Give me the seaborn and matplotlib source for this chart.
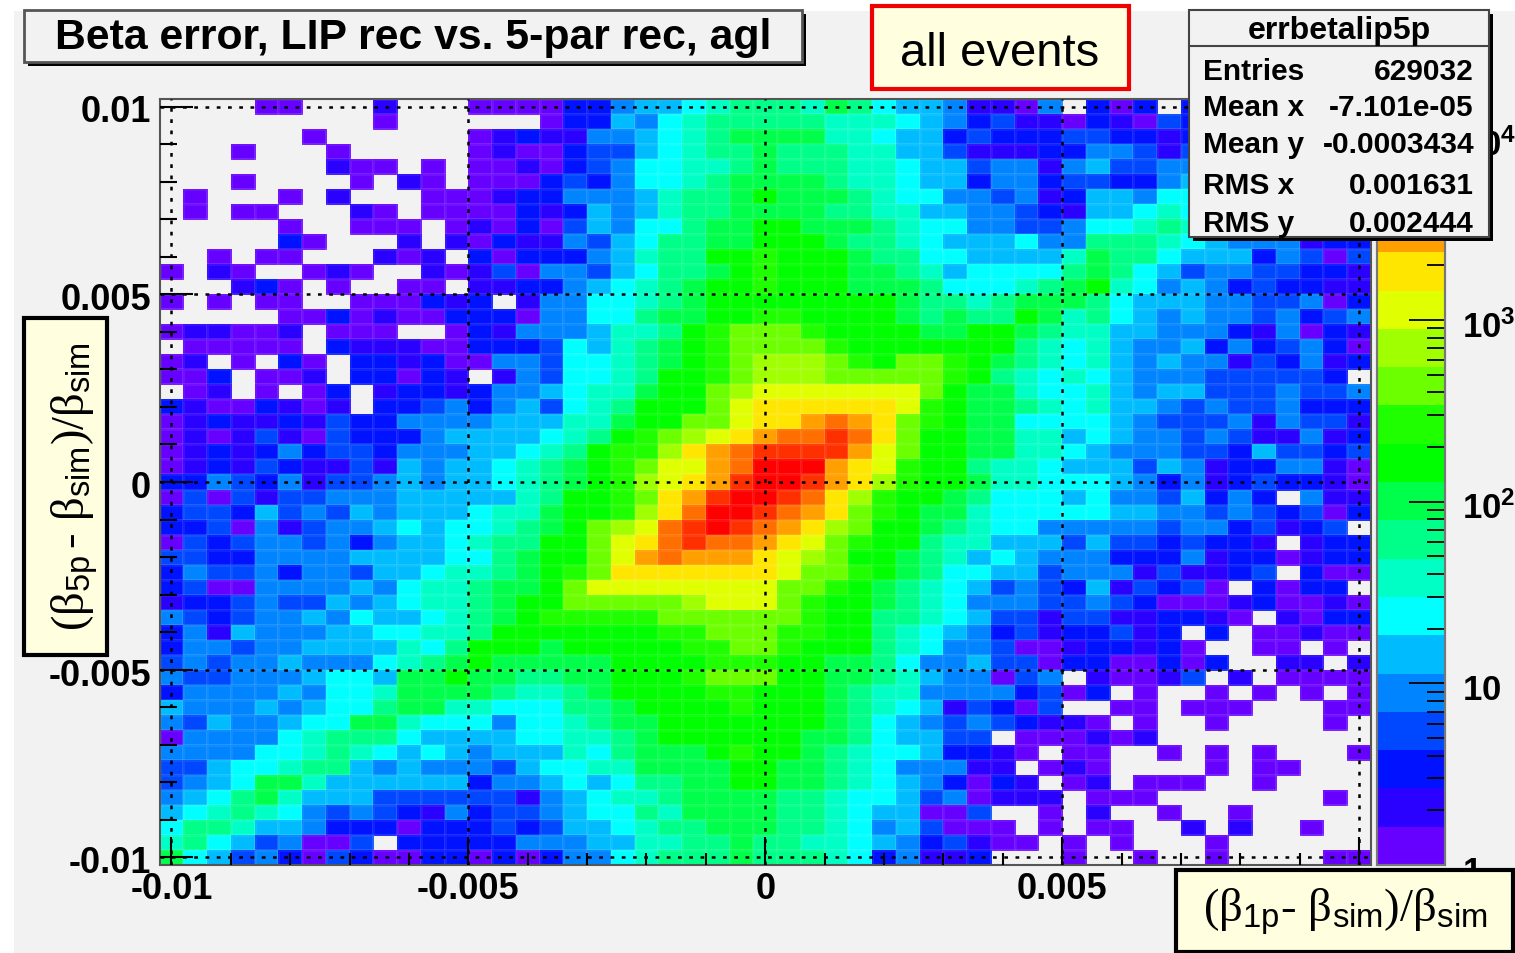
import matplotlib
matplotlib.use("Agg")
import matplotlib.pyplot as plt
import numpy as np
import pandas as pd
import seaborn as sns
from matplotlib.colors import ListedColormap, LogNorm
from matplotlib.patches import Rectangle
from matplotlib.ticker import FixedLocator, NullFormatter
from matplotlib.transforms import ScaledTranslation

# Colour band read for each cell, row 0 is beta5p = +0.01, "." is an empty bin
BAND_ROWS = [
    "....00...1..." "0000224556788" "879865541104.202." "22232222",
    ".........0..." "...022546" "7888" "88777654231102103" "23222322",
    "......0......" "0121144567899" "99776552322233221" "23223222",
    "...0...0....." "0100233567889" "88877553111224431" "32232222",
    ".......100.0." "0010234667789" "88877655344145334" "43232122",
    "...0....0.10." "0002324667899" "99877655244233224" "54343222",
    ".0...0.1...00" "012244457889a" "99987664434125546" "65443222",
    ".0.00...10.00" "0021254578899" "99887755443215567" "65544322",
    ".....0..000.0" "102035466899a" "a9998766443346678" "76544312",
    ".....20...1.1" "021143568899a" "aa988765556448887" "65444122",
    "..0.00...101." "2022245788aab" "aaa98866555579886" "55524303",
    "0.10..010..10" "13044356889ab" "aaa99875666689865" "34433221",
    "...120.0..00." "1122456789aab" "aaa9998666789a764" "54232211",
    "0.0.00..00021" "2.14466789aaa" "aaaaa988789998655" "54433402",
    ".....00201002" "2204466899aab" "baaaa98988a978654" "54434234",
    "011001.000..0" "214445778abcc" "cbaaaa99aa9877554" "44214021",
    ".00000.211100" "222365789abcc" "ccbaaaaaaa8767544" "52423420",
    "01.0.20.22120" "044366789abcd" "ddcbaccba98767545" "44132412",
    "002.001.22021" ".1436678aabcd" "ddcccccba87676544" "4333332.",
    ".01.0.02.1221" "24456779aacde" "eeeeeeca997667545" "53334334",
    "21002101.2234" "2453678aaacef" "fffffeba998767554" "34334222",
    "0121121322444" "4555779aaccef" "fghgfcba996666543" "33414331",
    "0101310322245" "555678abcdefg" "hhihfcaa997756544" "34311412",
    "0121242332444" "55678abbdfghi" "iiigecaa997765444" "33253323",
    "0121321131545" "56789abceeghj" "jjgfebaa877655535" "41224410",
    "2243241334545" "56789abdefgij" "jigfdbaa977666542" "41232210",
    "0303133444555" "5578aabcfgijj" "ihfdbaa9866656443" "5242.411",
    "2332534354555" "6779aabdfhjji" "hgfcba99766666554" "43432302",
    "2230413445656" "6789acdehijih" "gfdcaa98766444443" "4423123.",
    "0323443424556" "788aacefhihhg" "fecbaa87755535332" "3221.122",
    "3322444455556" "689aaceghgggf" "edcaa987565444222" "41220122",
    "2433424435567" "789abcfffffff" "eccba986655344413" "1123.200",
    "2300444454677" "899aceeeeeeee" "ccba9876534325132" "30.2022.",
    "1223433545677" "89aacccccdeee" "cbaa9876444334320" "00120010",
    "4323445465567" "89abbbbbccccc" "cbaa8876533133112" "210.1022",
    "2415444556677" "8aaaaaaabbccc" "bbaa8765423122312" ".2.00100",
    "2443445555768" "aaa9aaaaabbcc" "baaa8764430012212" "0..00.0.",
    "3434454446789" "a99999aaaabbb" "aa998644533022002" "02..11.1",
    "433444566599a" "998899aaabccc" "aa9987544034.1001" "3.1.0000",
    "2444454667999" "987789aaaabba" "aa987744442302.0." ".0.0.0.0",
    "5444545668997" "7666889aaaaba" "aa9876513203..00." "000...00",
    "4354456699766" "64667899aaaaa" "aa986543432110.0." ".0....0.",
    "0444467888655" "55667789aaaaa" "a99865533.000101." "........",
    "4444667876565" "4555768999aba" "a9876652210.00..0" ".0.0...0",
    "3356678854544" "43566779999aa" "9987644411.010..." ".0.00...",
    "3456997555555" "24456568899aa" "99876542021.01.00" "0..0....",
    "4568975553333" "3314567789999" "887665340111.000." "......0.",
    "5678764343214" "2334566879999" "887655003..0.1..0" "..0.....",
    "6887554222022" "2323556788999" "8876453000.0.00.." "1.1..0..",
    "786534003.222" "2244455778898" "87765423100.0.0.." ".0......",
    "9653420320022" "0202446788898" "887624112...0..0." ".0....00",
]
BAND_CODES = "0123456789abcdefghij"
# Typical bin content of each colour band
BAND_COUNTS = [1, 2, 3, 5, 9, 14, 23, 37, 60, 97, 160, 260, 420, 680, 1100, 1800, 2900, 4700, 7600, 12000]
BAND_COLORS = ["#6600FF", "#2A00FF", "#0012FF", "#0048FF", "#0084FF", "#00BCFF", "#00FFFF", "#00FFC4",
               "#00FF88", "#00FF4A", "#00FF00", "#20FF00", "#6CFF00", "#A0FF00", "#E0FF00", "#FFE600",
               "#FFA000", "#FF6E00", "#FF3000", "#FF0000"]

MAJOR_TICKS = [-0.01, -0.005, 0, 0.005, 0.01]
MAJOR_LABELS_X = ["-0.01", "-0.005", "0", "0.005", "0.01"]
MAJOR_LABELS_Y = ["-0.01", "-0.005", "0", "0.005", "0.01"]
MINOR_TICKS = [-0.009, -0.008, -0.007, -0.006, -0.004, -0.003, -0.002, -0.001,
               0.001, 0.002, 0.003, 0.004, 0.006, 0.007, 0.008, 0.009]
CBAR_TICKS = [1, 10, 100, 1000, 10000]
CBAR_LABELS = [r"$\mathbf{1}$", r"$\mathbf{10}$", r"$\mathbf{10^{2}}$", r"$\mathbf{10^{3}}$", r"$\mathbf{10^{4}}$"]
STAT_NAMES = ["Entries", "Mean x", "Mean y", "RMS x", "RMS y"]
STAT_VALUES = ["629032", "-7.101e-05", "-0.0003434", "0.001631", "0.002444"]

BIN_WIDTH = 0.0004
AXIS_EDGE = 0.0102
W, H = 1515, 954
CANVAS = "#F2F2F2"
NOTE = "#FFFFE0"

plt.rcParams["font.family"] = ["Liberation Sans", "DejaVu Sans"]
plt.rcParams["mathtext.fontset"] = "custom"
plt.rcParams["mathtext.rm"] = "Liberation Serif"
plt.rcParams["mathtext.it"] = "Liberation Serif"
plt.rcParams["mathtext.sf"] = "Liberation Sans"
plt.rcParams["mathtext.bf"] = "Liberation Sans:bold"
plt.rcParams["mathtext.default"] = "rm"


def to_counts(row):
    return [np.nan if c == "." else BAND_COUNTS[BAND_CODES.index(c)] for c in row]


def axes_box(x0, y0, x1, y1):
    # pixel box, measured from the top left, as a figure fraction rectangle
    return [x0 / W, 1 - y1 / H, (x1 - x0) / W, (y1 - y0) / H]


for row in BAND_ROWS:
    assert len(row) == 51, row
counts = pd.DataFrame([to_counts(r) for r in BAND_ROWS])

fig = plt.figure(figsize = (W / 100, H / 100), dpi = 100, facecolor = "white")
fig.add_artist(Rectangle((14 / W, 0), 1 - 14 / W, 1 - 12 / H, transform = fig.transFigure, facecolor = CANVAS, edgecolor = "none", zorder = -1))

ax = fig.add_axes(axes_box(159.5, 100, 1371, 866), facecolor = CANVAS)
cax = fig.add_axes(axes_box(1377, 100, 1445, 866))

sns.heatmap(counts, cmap = ListedColormap(BAND_COLORS), norm = LogNorm(vmin = 1, vmax = 16500), ax = ax, cbar_ax = cax,
            xticklabels = False, yticklabels = False, linewidths = 0.8, linecolor = (1, 1, 1, 0.07))

# heatmap axes run in bin numbers, so convert the physics values
x_pos = lambda v: (np.asarray(v) + AXIS_EDGE) / BIN_WIDTH
y_pos = lambda v: (AXIS_EDGE - np.asarray(v)) / BIN_WIDTH

ax.set_xticks(x_pos(MAJOR_TICKS))
ax.set_xticklabels(MAJOR_LABELS_X, fontsize = 26, fontweight = "bold", rotation = 0)
ax.set_xticks(x_pos(MINOR_TICKS), minor = True)
ax.set_yticks(y_pos(MAJOR_TICKS))
ax.set_yticklabels(MAJOR_LABELS_Y, fontsize = 26, fontweight = "bold", rotation = 0)
ax.set_yticks(y_pos(MINOR_TICKS), minor = True)
ax.tick_params(axis = "x", which = "major", direction = "in", length = 20, width = 1.5, pad = 4, color = "black", bottom = True)
ax.tick_params(axis = "x", which = "minor", direction = "in", length = 9, width = 1.5, color = "black", bottom = True)
ax.tick_params(axis = "y", which = "major", direction = "in", length = 24, width = 1.5, pad = 6, color = "black", left = True)
ax.tick_params(axis = "y", which = "minor", direction = "in", length = 12, width = 1.5, color = "black", left = True)
ax.set_axisbelow(False)
ax.grid(True, which = "major", color = "black", linestyle = (0, (1.5, 3)), linewidth = 1.8)
for spine in ax.spines.values():
    spine.set_visible(True)
    spine.set_color("#555555")
    spine.set_linewidth(1.5)

# ROOT draws these labels a little under their ticks
for label in ax.get_yticklabels():
    label.set_transform(label.get_transform() + ScaledTranslation(0, -1 / 72, fig.dpi_scale_trans))

cax.yaxis.set_major_locator(FixedLocator(CBAR_TICKS))
cax.set_yticklabels(CBAR_LABELS, fontsize = 25)
cax.yaxis.set_minor_locator(FixedLocator([m * d for d in [1, 10, 100, 1000] for m in range(2, 10)]))
cax.yaxis.set_minor_formatter(NullFormatter())
cax.tick_params(axis = "y", which = "major", direction = "in", length = 26, width = 1.3, pad = 12, right = True, left = False)
cax.tick_params(axis = "y", which = "minor", direction = "in", length = 13, width = 1.3, right = True, left = False)
for spine in cax.spines.values():
    spine.set_visible(True)
    spine.set_color("#777777")
    spine.set_linewidth(1.5)
for label in cax.get_yticklabels():
    label.set_transform(label.get_transform() + ScaledTranslation(0, -2 / 72, fig.dpi_scale_trans))

# Overlay in pixel coordinates for the pasted labels and the stat panels
top = fig.add_axes([0, 0, 1, 1], zorder = 5, facecolor = "none")
top.set_xlim(0, W)
top.set_ylim(H, 0)
top.axis("off")


def panel(x0, y0, x1, y1, face, edge, lw, shadow = 0):
    if shadow:
        top.add_patch(Rectangle((x0 + shadow, y0 + shadow), x1 - x0, y1 - y0, facecolor = "black", edgecolor = "none"))
    top.add_patch(Rectangle((x0, y0), x1 - x0, y1 - y0, facecolor = face, edgecolor = edge, linewidth = lw))


panel(24, 11, 802, 63, CANVAS, "#555555", 2, shadow = 4)
top.text(413, 38, "Beta error, LIP rec vs. 5-par rec, agl", fontsize = 30.8, fontweight = "bold", ha = "center", va = "center")

panel(872, 7, 1129, 90, NOTE, "#F00000", 3)
top.text(1000, 54, "all events", fontsize = 34, ha = "center", va = "center")

panel(1189, 11, 1489, 238, CANVAS, "#444444", 1.5, shadow = 4)
top.plot([1189, 1489], [47, 47], color = "#444444", linewidth = 1.5)
top.text(1339, 31, "errbetalip5p", fontsize = 23, fontweight = "bold", ha = "center", va = "center")
for name, value, y in zip(STAT_NAMES, STAT_VALUES, [72, 108, 145, 186, 224]):
    top.text(1203, y, name, fontsize = 21.5, fontweight = "bold", ha = "left", va = "center")
    top.text(1474, y, value, fontsize = 21.5, fontweight = "bold", ha = "right", va = "center")

panel(24, 319, 107, 656, NOTE, "black", 3)
top.text(75, 487, r"$(\beta_{\mathsf{5p}}\,\text{-}\ \beta_{\mathsf{sim}})/\beta_{\mathsf{sim}}$", fontsize = 33.5, rotation = 90, ha = "center", va = "center")

panel(1176, 871, 1513, 953, NOTE, "black", 3)
top.text(1345, 912, r"$(\beta_{\mathsf{1p}}\text{-}\ \beta_{\mathsf{sim}})/\beta_{\mathsf{sim}}$", fontsize = 33.7, ha = "center", va = "center")

fig.savefig("out.png", dpi = 100)
